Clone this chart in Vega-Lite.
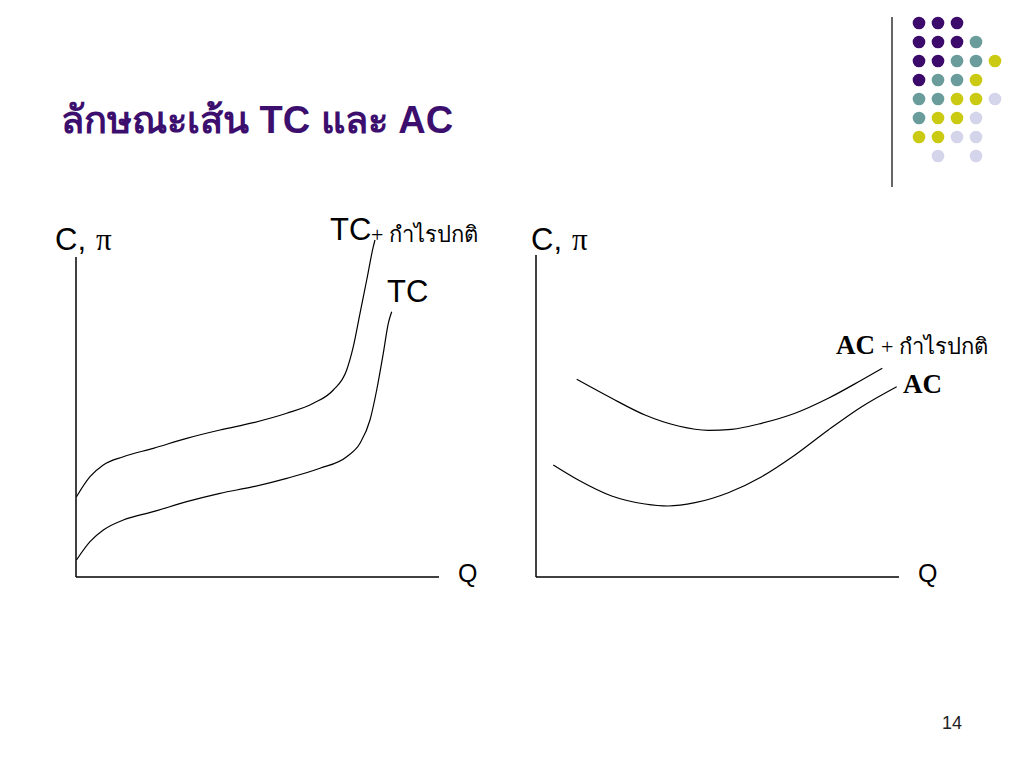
{
  "$schema": "https://vega.github.io/schema/vega-lite/v6.json",
  "width": 1024,
  "height": 768,
  "autosize": {"type": "fit", "contains": "padding"},
  "padding": 0,
  "background": "white",
  "config": {"view": {"stroke": null}},
  "datasets": {
    "curves": [
      {"curve": "TC+profit", "x": 76.5, "y": 496.7}, {"curve": "TC+profit", "x": 90, "y": 476.7}, {"curve": "TC+profit", "x": 103.3, "y": 465}, {"curve": "TC+profit", "x": 123.3, "y": 456.7}, {"curve": "TC+profit", "x": 153.3, "y": 448.3}, {"curve": "TC+profit", "x": 186.7, "y": 438.3}, {"curve": "TC+profit", "x": 220, "y": 430}, {"curve": "TC+profit", "x": 253.3, "y": 422.7}, {"curve": "TC+profit", "x": 286.7, "y": 413.3}, {"curve": "TC+profit", "x": 313.3, "y": 403.3}, {"curve": "TC+profit", "x": 333.3, "y": 390}, {"curve": "TC+profit", "x": 346.7, "y": 370}, {"curve": "TC+profit", "x": 353.3, "y": 346.7}, {"curve": "TC+profit", "x": 360, "y": 313.3}, {"curve": "TC+profit", "x": 366.7, "y": 280}, {"curve": "TC+profit", "x": 373.3, "y": 246.7}, {"curve": "TC+profit", "x": 375, "y": 240},
      {"curve": "TC", "x": 76.5, "y": 560}, {"curve": "TC", "x": 90, "y": 541.7}, {"curve": "TC", "x": 103.3, "y": 530}, {"curve": "TC", "x": 123.3, "y": 520}, {"curve": "TC", "x": 153.3, "y": 511.7}, {"curve": "TC", "x": 186.7, "y": 501.7}, {"curve": "TC", "x": 220, "y": 493.3}, {"curve": "TC", "x": 253.3, "y": 486.7}, {"curve": "TC", "x": 286.7, "y": 478.3}, {"curve": "TC", "x": 320, "y": 468.3}, {"curve": "TC", "x": 346.7, "y": 456.7}, {"curve": "TC", "x": 360, "y": 443.3}, {"curve": "TC", "x": 370, "y": 420}, {"curve": "TC", "x": 376.7, "y": 390}, {"curve": "TC", "x": 383.3, "y": 353.3}, {"curve": "TC", "x": 388.3, "y": 323.3}, {"curve": "TC", "x": 391.7, "y": 311.7},
      {"curve": "AC+profit", "x": 576.7, "y": 379.3}, {"curve": "AC+profit", "x": 611.7, "y": 398.3}, {"curve": "AC+profit", "x": 645, "y": 415}, {"curve": "AC+profit", "x": 678.3, "y": 426}, {"curve": "AC+profit", "x": 708.3, "y": 430.3}, {"curve": "AC+profit", "x": 731.7, "y": 429.3}, {"curve": "AC+profit", "x": 761.7, "y": 423.3}, {"curve": "AC+profit", "x": 795, "y": 413.3}, {"curve": "AC+profit", "x": 828.3, "y": 398.3}, {"curve": "AC+profit", "x": 861.7, "y": 380}, {"curve": "AC+profit", "x": 882.3, "y": 368.3},
      {"curve": "AC", "x": 553.3, "y": 465}, {"curve": "AC", "x": 578.3, "y": 480}, {"curve": "AC", "x": 611.7, "y": 496}, {"curve": "AC", "x": 645, "y": 504}, {"curve": "AC", "x": 668.3, "y": 506}, {"curve": "AC", "x": 695, "y": 502.7}, {"curve": "AC", "x": 728.3, "y": 492.7}, {"curve": "AC", "x": 761.7, "y": 476.7}, {"curve": "AC", "x": 795, "y": 455}, {"curve": "AC", "x": 828.3, "y": 430}, {"curve": "AC", "x": 861.7, "y": 406.7}, {"curve": "AC", "x": 896.7, "y": 386.7}
    ],
    "axes": [
      {"x": 76, "y": 257, "x2": 76, "y2": 577},
      {"x": 76, "y": 577, "x2": 439, "y2": 577},
      {"x": 536, "y": 255, "x2": 536, "y2": 577},
      {"x": 536, "y": 577, "x2": 899, "y2": 577}
    ],
    "divider": [{"x": 892, "y": 17, "x2": 892, "y2": 187}],
    "dots": [
      {"x": 919, "y": 23, "c": "purple"}, {"x": 938, "y": 23, "c": "purple"}, {"x": 957, "y": 23, "c": "purple"},
      {"x": 919, "y": 42, "c": "purple"}, {"x": 938, "y": 42, "c": "purple"}, {"x": 957, "y": 42, "c": "purple"}, {"x": 976, "y": 42, "c": "teal"},
      {"x": 919, "y": 61, "c": "purple"}, {"x": 938, "y": 61, "c": "purple"}, {"x": 957, "y": 61, "c": "teal"}, {"x": 976, "y": 61, "c": "teal"}, {"x": 995, "y": 61, "c": "yellow"},
      {"x": 919, "y": 80, "c": "purple"}, {"x": 938, "y": 80, "c": "teal"}, {"x": 957, "y": 80, "c": "teal"}, {"x": 976, "y": 80, "c": "yellow"},
      {"x": 919, "y": 99, "c": "teal"}, {"x": 938, "y": 99, "c": "teal"}, {"x": 957, "y": 99, "c": "yellow"}, {"x": 976, "y": 99, "c": "yellow"}, {"x": 995, "y": 99, "c": "lavender"},
      {"x": 919, "y": 118, "c": "teal"}, {"x": 938, "y": 118, "c": "yellow"}, {"x": 957, "y": 118, "c": "yellow"}, {"x": 976, "y": 118, "c": "lavender"},
      {"x": 919, "y": 137, "c": "yellow"}, {"x": 938, "y": 137, "c": "yellow"}, {"x": 957, "y": 137, "c": "lavender"}, {"x": 976, "y": 137, "c": "lavender"},
      {"x": 938, "y": 156, "c": "lavender"}, {"x": 976, "y": 156, "c": "lavender"}
    ]
  },
  "encoding": {
    "x": {"field": "x", "type": "quantitative", "scale": {"domain": [0, 1024], "nice": false, "zero": false}, "axis": null},
    "y": {"field": "y", "type": "quantitative", "scale": {"domain": [0, 768], "nice": false, "zero": false, "reverse": true}, "axis": null}
  },
  "layer": [
    {
      "data": {"name": "axes"},
      "mark": {"type": "rule", "color": "black", "strokeWidth": 1.5},
      "encoding": {"x2": {"field": "x2"}, "y2": {"field": "y2"}}
    },
    {
      "data": {"name": "divider"},
      "mark": {"type": "rule", "color": "#333333", "strokeWidth": 1.5},
      "encoding": {"x2": {"field": "x2"}, "y2": {"field": "y2"}}
    },
    {
      "data": {"name": "curves"},
      "mark": {"type": "line", "color": "black", "strokeWidth": 1.2, "interpolate": "monotone"},
      "encoding": {"detail": {"field": "curve"}, "order": {"field": "x", "type": "quantitative"}}
    },
    {
      "data": {"name": "dots"},
      "mark": {"type": "circle", "size": 160, "opacity": 1},
      "encoding": {
        "color": {"field": "c", "type": "nominal", "legend": null,
          "scale": {"domain": ["purple", "teal", "yellow", "lavender"], "range": ["#3C0A6B", "#6A9C9C", "#CACA12", "#D4D4EA"]}}
      }
    },
    {
      "data": {"values": [{"x": 61, "y": 133, "t": "ลักษณะเส้น TC และ AC"}]},
      "mark": {"type": "text", "align": "left", "baseline": "alphabetic", "font": "Liberation Sans", "fontWeight": "bold", "fontSize": 38, "color": "#3C0F6E"},
      "encoding": {"text": {"field": "t"}}
    },
    {
      "data": {"values": [
        {"x": 55, "y": 250, "t": "C,"},
        {"x": 531, "y": 250, "t": "C,"},
        {"x": 330, "y": 240, "t": "TC"},
        {"x": 387, "y": 302, "t": "TC"}
      ]},
      "mark": {"type": "text", "align": "left", "baseline": "alphabetic", "font": "Liberation Sans", "fontSize": 31, "color": "black"},
      "encoding": {"text": {"field": "t"}}
    },
    {
      "data": {"values": [
        {"x": 96, "y": 250, "t": "π"},
        {"x": 572, "y": 250, "t": "π"}
      ]},
      "mark": {"type": "text", "align": "left", "baseline": "alphabetic", "font": "Liberation Serif", "fontSize": 31, "color": "black"},
      "encoding": {"text": {"field": "t"}}
    },
    {
      "data": {"values": [
        {"x": 458, "y": 582, "t": "Q"},
        {"x": 918, "y": 582, "t": "Q"}
      ]},
      "mark": {"type": "text", "align": "left", "baseline": "alphabetic", "font": "Liberation Sans", "fontSize": 25, "color": "black"},
      "encoding": {"text": {"field": "t"}}
    },
    {
      "data": {"values": [
        {"x": 371, "y": 242, "t": "+ กำไรปกติ"},
        {"x": 881, "y": 354, "t": "+ กำไรปกติ"}
      ]},
      "mark": {"type": "text", "align": "left", "baseline": "alphabetic", "font": "Liberation Serif", "fontSize": 22, "color": "black"},
      "encoding": {"text": {"field": "t"}}
    },
    {
      "data": {"values": [
        {"x": 836, "y": 354, "t": "AC"},
        {"x": 903, "y": 393, "t": "AC"}
      ]},
      "mark": {"type": "text", "align": "left", "baseline": "alphabetic", "font": "Liberation Serif", "fontWeight": "bold", "fontSize": 27, "color": "black"},
      "encoding": {"text": {"field": "t"}}
    },
    {
      "data": {"values": [{"x": 942, "y": 729, "t": "14"}]},
      "mark": {"type": "text", "align": "left", "baseline": "alphabetic", "font": "Liberation Sans", "fontSize": 18, "color": "#222222"},
      "encoding": {"text": {"field": "t"}}
    }
  ]
}
